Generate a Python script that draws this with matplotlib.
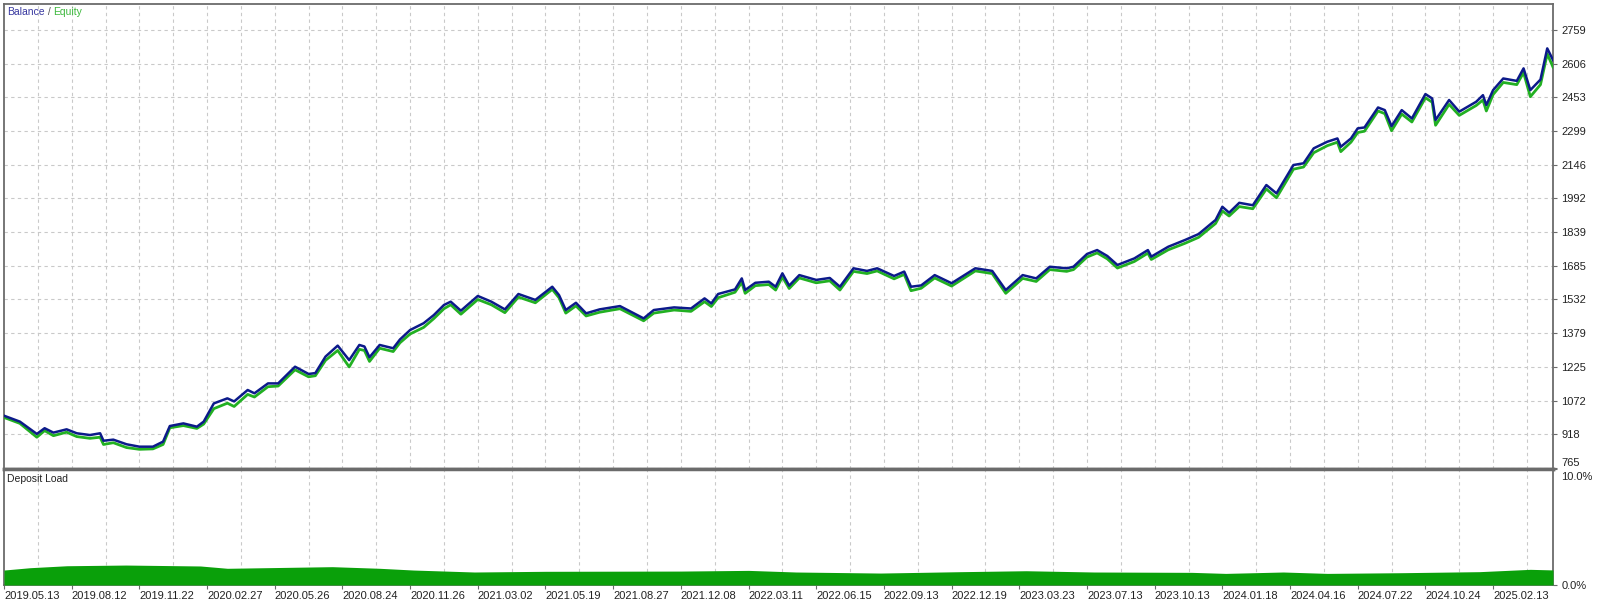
import numpy as np
import matplotlib
matplotlib.use("Agg")
import matplotlib.pyplot as plt
from matplotlib.transforms import ScaledTranslation

plt.rcParams['font.family'] = ['Liberation Sans', 'DejaVu Sans']

# x is measured in grid cells (one dashed vertical line per cell)
bal_x = [0.0, 0.47, 0.97, 1.2, 1.46, 1.85, 2.15, 2.54, 2.84, 2.94, 3.23, 3.62, 4.0, 4.4, 4.7,
         4.9, 5.3, 5.7, 5.9, 6.2, 6.6, 6.8, 7.2, 7.4, 7.8, 8.1, 8.6, 9.0, 9.2, 9.5,
         9.86, 10.2, 10.5, 10.65, 10.8, 11.1, 11.5, 11.7, 12.0, 12.4, 12.7, 13.0, 13.2, 13.5, 14.0,
         14.4, 14.8, 15.2, 15.7, 16.2, 16.4, 16.6, 16.9, 17.2, 17.6, 18.2, 18.9, 19.2, 19.8, 20.3,
         20.7, 20.9, 21.1, 21.6, 21.8, 21.9, 22.2, 22.6, 22.8, 23.0, 23.2, 23.5, 24.0, 24.4, 24.7,
         25.1, 25.5, 25.8, 26.3, 26.6, 26.8, 27.1, 27.5, 28.0, 28.7, 29.2, 29.6, 30.1, 30.5, 30.9,
         31.4, 31.6, 32.0, 32.3, 32.6, 32.9, 33.4, 33.8, 33.9, 34.4, 34.9, 35.3, 35.8, 36.0, 36.2,
         36.5, 36.9, 37.3, 37.6, 38.1, 38.4, 38.7, 39.1, 39.4, 39.5, 39.8, 40.0, 40.2, 40.6, 40.8,
         41.0, 41.3, 41.6, 42.0, 42.2, 42.3, 42.7, 43.0, 43.5, 43.7, 43.8, 44.0, 44.3, 44.7, 44.9,
         45.1, 45.4, 45.6, 45.77]
balance = [1003, 976, 920, 946, 926, 941, 923, 915, 923, 889, 894, 873, 862, 862, 885,
           956, 968, 953, 976, 1059, 1082, 1068, 1120, 1105, 1150, 1150, 1226, 1193, 1197, 1272,
           1322, 1256, 1325, 1318, 1269, 1325, 1310, 1350, 1393, 1424, 1461, 1507, 1522, 1481, 1548,
           1522, 1487, 1557, 1530, 1590, 1552, 1484, 1517, 1469, 1487, 1502, 1446, 1484, 1496, 1491,
           1537, 1514, 1557, 1578, 1628, 1575, 1608, 1613, 1590, 1651, 1595, 1643, 1621, 1630, 1590,
           1674, 1662, 1674, 1639, 1659, 1590, 1596, 1643, 1606, 1674, 1662, 1575, 1643, 1628, 1681,
           1674, 1681, 1739, 1757, 1730, 1689, 1719, 1757, 1727, 1772, 1803, 1830, 1894, 1954, 1927,
           1972, 1961, 2053, 2015, 2144, 2152, 2220, 2250, 2265, 2227, 2265, 2311, 2315, 2406, 2394,
           2321, 2394, 2356, 2467, 2447, 2349, 2440, 2387, 2432, 2462, 2417, 2485, 2538, 2527, 2584,
           2485, 2533, 2675, 2622]
equity = [995, 968, 905, 935, 912, 928, 908, 900, 905, 872, 880, 858, 850, 852, 872,
          948, 958, 945, 965, 1035, 1060, 1045, 1100, 1088, 1135, 1138, 1212, 1180, 1185, 1255,
          1300, 1225, 1305, 1300, 1250, 1310, 1295, 1335, 1375, 1405, 1445, 1490, 1508, 1465, 1532,
          1508, 1472, 1543, 1517, 1578, 1540, 1470, 1503, 1457, 1474, 1490, 1435, 1470, 1484, 1478,
          1522, 1500, 1540, 1565, 1610, 1560, 1595, 1600, 1575, 1635, 1582, 1630, 1608, 1617, 1575,
          1660, 1650, 1662, 1626, 1646, 1572, 1583, 1630, 1593, 1662, 1650, 1560, 1628, 1614, 1668,
          1660, 1668, 1725, 1744, 1717, 1675, 1705, 1743, 1714, 1758, 1788, 1815, 1878, 1935, 1912,
          1955, 1945, 2035, 1995, 2125, 2135, 2200, 2232, 2248, 2205, 2248, 2292, 2298, 2390, 2378,
          2300, 2376, 2340, 2450, 2430, 2325, 2420, 2370, 2415, 2440, 2390, 2465, 2520, 2510, 2565,
          2455, 2510, 2650, 2590]

load_x = [0.0, 0.77, 1.86, 3.6, 5.8, 6.6, 9.7, 11.1, 12.1, 13.9, 16.0, 20.0, 22.0, 23.4,
          25.9, 28.3, 30.2, 32.2, 35.1, 36.1, 37.8, 39.1, 41.3, 43.6, 45.1, 45.77]
load_pct = [1.29, 1.49, 1.66, 1.72, 1.64, 1.44, 1.58, 1.44, 1.29, 1.12, 1.18, 1.20, 1.26, 1.12,
            1.03, 1.15, 1.23, 1.12, 1.09, 1.00, 1.12, 1.00, 1.06, 1.15, 1.35, 1.30]

y_ticks = [765, 918, 1072, 1225, 1379, 1532, 1685, 1839, 1992, 2146, 2299, 2453, 2606, 2759]
date_labels = ['2019.05.13', '2019.08.12', '2019.11.22', '2020.02.27', '2020.05.26', '2020.08.24',
               '2020.11.26', '2021.03.02', '2021.05.19', '2021.08.27', '2021.12.08', '2022.03.11',
               '2022.06.15', '2022.09.13', '2022.12.19', '2023.03.23', '2023.07.13', '2023.10.13',
               '2024.01.18', '2024.04.16', '2024.07.22', '2024.10.24', '2025.02.13']

x_max = 45.77
spine_col = '#6b6b6b'
grid_col = '#c9c9c9'
txt_col = '#222222'

fig = plt.figure(figsize=(16, 6.02), dpi=100)
ax1 = fig.add_axes([4 / 1600, 133 / 602, 1549 / 1600, 465 / 602])
ax2 = fig.add_axes([4 / 1600, 17 / 602, 1549 / 1600, 116 / 602])

for ax in (ax1, ax2):
    ax.set_xlim(0, x_max)
    ax.set_xticks(np.arange(1, 46), minor=True)
    ax.grid(True, which='minor', axis='x', color=grid_col, linestyle=(0, (3, 3)), linewidth=0.8)
    for s in ax.spines.values():
        s.set_color(spine_col)
        s.set_linewidth(1.3)
    ax.yaxis.tick_right()
    ax.tick_params(axis='y', which='major', length=3, color=spine_col, labelsize=8,
                   labelcolor=txt_col, pad=3)
    ax.tick_params(axis='x', which='minor', length=0)

ax1.spines['bottom'].set_linewidth(2.5)
ax2.spines['top'].set_linewidth(2.5)

# balance / equity
ax1.plot(bal_x, equity, color='#22b022', linewidth=2.0, zorder=3)
ax1.plot(bal_x, balance, color='#0c1a8a', linewidth=1.8, zorder=4)
ax1.set_ylim(760.4, 2877)
ax1.set_yticks(y_ticks)
ax1.set_yticklabels([str(v) for v in y_ticks])
ax1.grid(True, which='major', axis='y', color=grid_col, linestyle=(0, (3, 3)), linewidth=0.8)
ax1.set_xticks([])
ax1.set_axisbelow(True)
# lowest label sits just above the panel separator
ax1.get_yticklabels()[0].set_va('bottom')

t1 = ax1.text(3 / 1549, 1 - 8 / 465, 'Balance', transform=ax1.transAxes, fontsize=7.5,
              color='#3838a0', va='center', ha='left')
t2 = ax1.annotate(' / ', xy=(1, 0), xycoords=t1, va='bottom', ha='left', fontsize=7.5,
                  color='#555555')
ax1.annotate('Equity', xy=(1, 0), xycoords=t2, va='bottom', ha='left', fontsize=7.5,
             color='#3cb83c')

# deposit load
ax2.fill_between(load_x, 0, load_pct, color='#0aa00a', linewidth=0, zorder=3)
ax2.set_ylim(0, 10)
ax2.set_yticks([0, 10])
ax2.set_yticklabels(['0.0%', '10.0%'])
top_lab = ax2.get_yticklabels()[1]
top_lab.set_va('top')
top_lab.set_transform(top_lab.get_transform() + ScaledTranslation(0, -3 / 100, fig.dpi_scale_trans))
ax2.set_xticks(np.arange(0, 45, 2))
ax2.set_xticklabels(date_labels, ha='left')
ax2.tick_params(axis='x', which='major', length=3, color=spine_col, labelsize=8,
                labelcolor=txt_col, pad=1)
ax2.text(3 / 1549, 1 - 10 / 116, 'Deposit Load', transform=ax2.transAxes, fontsize=7.5,
         color=txt_col, va='center', ha='left')

fig.savefig('out.png', dpi=100, facecolor='white')
